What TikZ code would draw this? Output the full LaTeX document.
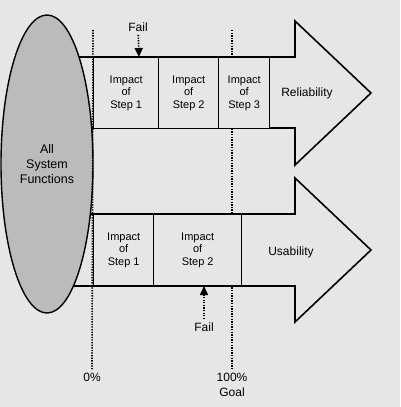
\documentclass[tikz,border=0pt]{standalone}
\usepackage{fontspec}
\setmainfont{Liberation Sans}
\usetikzlibrary{arrows.meta,shapes.geometric}
\definecolor{bggray}{HTML}{E6E6E6}
\definecolor{ovalgray}{HTML}{BBBBBB}

\begin{document}
\begin{tikzpicture}[x=1pt,y=-1pt, % one unit is one pixel of the reference
	impact/.style={draw,line width=1.4pt,fill=bggray,anchor=north west,minimum height=71pt,
		inner sep=0pt,align=center,font=\fontsize{11}{12.5}\selectfont},
	bigarrow/.style={draw,line width=1.6pt,fill=bggray,line join=miter},
	goalline/.style={line width=1.6pt,dash pattern=on 1.3pt off 1.3pt},
	failarrow/.style={goalline,-{Triangle[width=8pt,length=9pt]}},
	lbl/.style={font=\fontsize{12}{14.5}\selectfont,align=center}]
	
	% Background and page size
	\fill[bggray,use as bounding box] (0,0) rectangle (400,407);
	
	% Dotted line at 100%
	\node[lbl] (pzero) at (92,377) {0\%};
	\node[lbl] (pgoal) at (232,385) {100\%\\Goal};
	\coordinate (zerotop) at (93,30);
	\coordinate (goaltop) at (232,30);
	\draw[goalline] (goaltop) -- (pgoal.north);
	
	% Reliability arrow
	\draw[bigarrow] (47,57) -- (295,57) -- (295,21) -- (371,93) -- (295,165) -- (295,128) -- (47,128) -- cycle;
	\foreach \x/\w/\n in {93/65/1,158/60/2,218/51/3}
	\node[impact,minimum width=\w pt] (rel\n) at (\x,57) {Impact\\of\\Step \n};
	\node[lbl] (reliability) at (307,93) {Reliability};
	
	% Usability arrow
	\draw[bigarrow] (47,214) -- (295,214) -- (295,178) -- (371,250) -- (295,322) -- (295,286) -- (47,286) -- cycle;
	\foreach \x/\w/\n in {93/60/1,153/88/2}
	\node[impact,minimum width=\w pt] (use\n) at (\x,214) {Impact\\of\\Step \n};
	\node[lbl] (usability) at (291,252) {Usability};
	
	% Failure points
	\node[lbl] (failrel) at (138,27) {Fail};
	\coordinate (hitrel) at (139,57);
	\draw[failarrow] (failrel) -- (hitrel);
	\node[lbl] (failuse) at (204,327) {Fail};
	\coordinate (hituse) at (204,286);
	\draw[failarrow] (failuse) -- (hituse);
	
	% All system functions
	\node[ellipse,draw,line width=1.4pt,fill=ovalgray,minimum width=92pt,minimum height=298pt,
		inner sep=0pt,font=\fontsize{12.5}{15}\selectfont,align=center] (allfn) at (47,164) {All\\System\\Functions};
	
	% Dotted line at 0% (over the oval edge)
	\draw[goalline] (zerotop) -- (pzero.north);
\end{tikzpicture}
\end{document}
